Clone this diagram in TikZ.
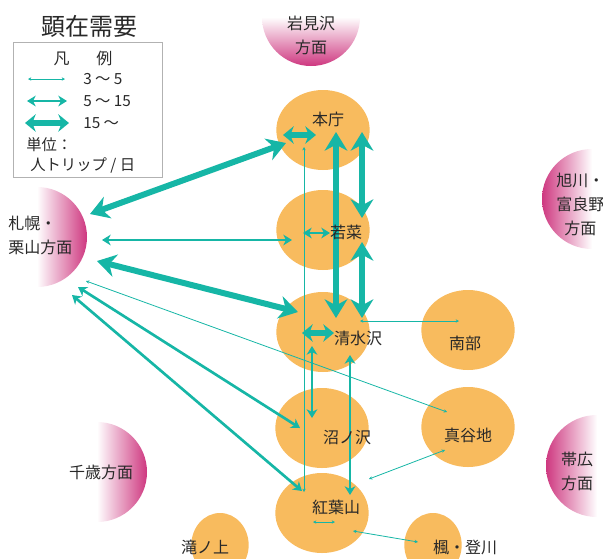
\documentclass[tikz,border=0pt]{standalone}
\usepackage{fontspec}
\setmainfont{Noto Sans CJK JP}
\usetikzlibrary{arrows.meta,shapes.geometric}
\definecolor{tealC}{RGB}{22,182,166}
\definecolor{orangeC}{RGB}{248,187,94}
\definecolor{pinkC}{RGB}{206,56,128}
\definecolor{txt}{RGB}{40,40,40}
\tikzset{
  place/.style={ellipse, fill=orangeC, inner sep=0pt, minimum width=70pt, minimum height=60pt},
  smallplace/.style={ellipse, fill=orangeC, inner sep=0pt, minimum width=43pt, minimum height=48pt},
  lbl/.style={text=txt, font=\fontsize{12pt}{18pt}\selectfont, inner sep=0pt, align=center},
  leg/.style={text=txt, font=\fontsize{11.5pt}{14pt}\selectfont, inner sep=0pt, anchor=west},
  thickA/.style={draw=tealC, line width=4.5pt, {Stealth[length=14pt,width=17pt,inset=4.5pt]}-{Stealth[length=14pt,width=17pt,inset=4.5pt]}},
  shortA/.style={draw=tealC, line width=4pt, {Stealth[length=8pt,width=13pt,inset=2.5pt]}-{Stealth[length=8pt,width=13pt,inset=2.5pt]}},
  midA/.style={draw=tealC, line width=2pt, {Stealth[length=6.5pt,width=8pt,inset=2pt]}-{Stealth[length=6.5pt,width=8pt,inset=2pt]}},
  thinA/.style={draw=tealC, line width=0.6pt, {Stealth[length=2.5pt,width=2.5pt]}-{Stealth[length=2.5pt,width=2.5pt]}},
}
\begin{document}
\begin{tikzpicture}[x=0.75pt,y=-0.75pt]
\useasboundingbox (0,0) rectangle (603,558);

% pink direction half-discs
\shade[left color=white, right color=pinkC] (37,187) arc[start angle=-90, end angle=90, radius=50] -- cycle;
\shade[left color=white, right color=pinkC] (97,422) arc[start angle=-90, end angle=90, radius=50] -- cycle;
\shade[left color=pinkC, right color=white] (592,149) arc[start angle=-90, end angle=-270, radius=50] -- cycle;
\shade[left color=pinkC, right color=white] (597,415) arc[start angle=-90, end angle=-270, radius=51] -- cycle;
\shade[top color=white, bottom color=pinkC] (262,17) arc[start angle=180, end angle=0, radius=49] -- cycle;

% places
\node[place] (honcho) at (323,130) {};
\node[place] (wakana) at (323,230) {};
\node[place] (shimizu) at (323,332) {};
\node[place] (numa) at (322,428) {};
\node[place] (momiji) at (322,513) {};
\node[place] (nanbu) at (468,330) {};
\node[place] (maya) at (468,427) {};
\node[smallplace] (kaede) at (433,545) {};
\node[smallplace] (taki) at (220,545) {};

% connector end points
\coordinate (sapA) at (90,214);   \coordinate (honA) at (286,143);
\coordinate (sapB) at (97,261);   \coordinate (shiB) at (298,312);
\coordinate (honC) at (336,132);  \coordinate (shiC) at (336,318);
\coordinate (honD) at (362,132);  \coordinate (wakD) at (362,218);
\coordinate (wakE) at (362,242);  \coordinate (shiE) at (362,318);
\coordinate (honF1) at (283,135); \coordinate (honF2) at (316,135);
\coordinate (shiG1) at (302,333); \coordinate (shiG2) at (334,333);
\coordinate (sapH) at (102,240);  \coordinate (wakH) at (292,240);
\coordinate (wakI1) at (303,233); \coordinate (wakI2) at (330,233);
\coordinate (shiJ) at (312,346);  \coordinate (numJ) at (312,418);
\coordinate (shiK) at (350,355);  \coordinate (momK) at (350,495);
\coordinate (sapL) at (78,287);   \coordinate (numL) at (300,428);
\coordinate (sapM) at (72,295);   \coordinate (momM) at (302,491);
\coordinate (honN) at (304,147);  \coordinate (momN) at (304,492);
\coordinate (sapO) at (86,281);   \coordinate (mayO) at (447,412);
\coordinate (shiP) at (360,321);  \coordinate (nanP) at (459,321);
\coordinate (mayQ) at (445,450);  \coordinate (momQ) at (369,479);
\coordinate (momR1) at (313,522); \coordinate (momR2) at (335,522);
\coordinate (momS) at (353,531);  \coordinate (kaeS) at (418,542);

% thin connectors
\draw[thinA] (honN) -- (momN);
\draw[thinA] (sapO) -- (mayO);
\draw[thinA] (shiP) -- (nanP);
\draw[thinA] (mayQ) -- (momQ);
\draw[thinA] (momR1) -- (momR2);
\draw[thinA] (momS) -- (kaeS);

% medium connectors
\draw[midA] (sapH) -- (wakH);
\draw[midA] (wakI1) -- (wakI2);
\draw[midA] (shiJ) -- (numJ);
\draw[midA] (shiK) -- (momK);
\draw[midA] (sapL) -- (numL);
\draw[midA] (sapM) -- (momM);

% thick connectors
\draw[thickA] (sapA) -- (honA);
\draw[thickA] (sapB) -- (shiB);
\draw[thickA] (honC) -- (shiC);
\draw[thickA] (honD) -- (wakD);
\draw[thickA] (wakE) -- (shiE);
\draw[shortA] (honF1) -- (honF2);
\draw[shortA] (shiG1) -- (shiG2);

% place labels
\node[lbl] (lhon) at (328,119) {本庁};
\node[lbl] (lwak) at (346,232) {若菜};
\node[lbl] (lshi) at (358,338) {清水沢};
\node[lbl] (lnum) at (347,437) {沼ノ沢};
\node[lbl] (lmom) at (336,507) {紅葉山};
\node[lbl] (lnan) at (465,343) {南部};
\node[lbl] (lmay) at (468,435) {真谷地};
\node[lbl] (lkae) at (465,548) {楓・登川};
\node[lbl] (ltak) at (205,547) {滝ノ上};
\node[lbl] (liwa) at (311,35) {岩見沢\\方面};
\node[lbl, anchor=west, align=left] (lsap) at (8,235) {札幌・\\栗山方面};
\node[lbl] (lchi) at (101,472) {千歳方面};
\node[lbl, anchor=west] (lasa) at (556,204) {旭川・\\富良野\\方面};
\node[lbl] (lobi) at (577,471) {帯広\\方面};

% title and legend
\node[text=txt, font=\fontsize{18pt}{20pt}\selectfont, inner sep=0pt] (title) at (89,26) {顕在需要};
\draw[gray!60, line width=0.6pt] (13,42) rectangle (162,177);
\node[text=txt, font=\fontsize{12pt}{14pt}\selectfont, inner sep=0pt] (lgh) at (83,58) {凡\hspace{20pt}例};
\coordinate (lg1a) at (28,79);  \coordinate (lg1b) at (65,79);
\coordinate (lg2a) at (27,101); \coordinate (lg2b) at (67,101);
\coordinate (lg3a) at (25,123); \coordinate (lg3b) at (69,123);
\draw[thinA] (lg1a) -- (lg1b);
\draw[midA] (lg2a) -- (lg2b);
\draw[shortA, line width=5pt] (lg3a) -- (lg3b);
\node[leg] (lgt1) at (83,79) {3 ～ 5};
\node[leg] (lgt2) at (83,101) {5 ～ 15};
\node[leg] (lgt3) at (83,123) {15 ～};
\node[leg] (lgt4) at (26,145) {単位：};
\node[leg] (lgt5) at (30,165) {人トリップ / 日};
\end{tikzpicture}
\end{document}
